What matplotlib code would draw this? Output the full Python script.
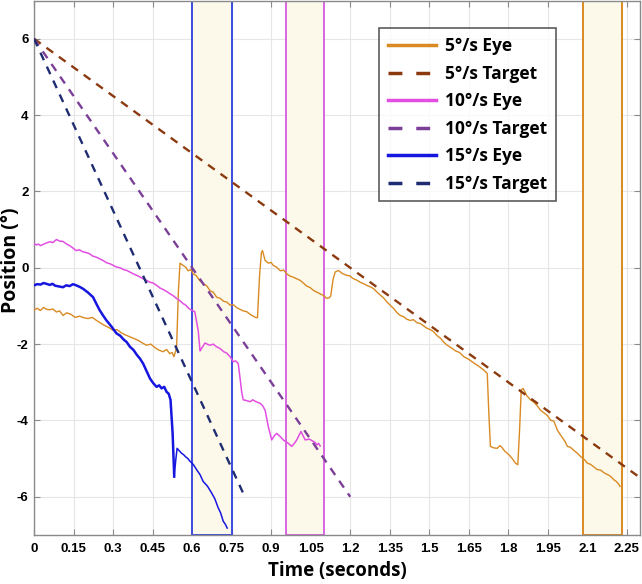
import matplotlib
matplotlib.use("Agg")
import matplotlib.pyplot as plt
from matplotlib.patches import Rectangle

plt.rcParams["axes.unicode_minus"] = False

# ---------------- data ----------------
t_eye5 = [0.000,0.012,0.024,0.036,0.048,0.059,0.072,0.085,0.097,0.110,0.124,0.140,0.156,0.173,0.189,0.205,0.221,0.237,0.253,0.270,0.285,0.300,0.315,0.330,0.347,0.364,0.380,0.395,0.411,0.427,0.443,0.460,0.475,0.490,0.503,0.515,0.524,0.531,
          0.541,0.548,0.554,
          0.566,0.575,0.585,0.595,0.604,0.615,0.628,0.642,0.655,0.668,0.680,0.693,0.706,0.720,0.732,0.744,0.757,0.770,0.782,0.794,0.807,0.820,0.830,0.840,0.848,
          0.856,0.863,0.867,
          0.877,0.890,0.900,0.908,0.920,0.935,0.947,0.959,0.972,0.985,0.997,1.010,1.022,1.035,1.048,1.060,1.070,1.080,1.090,1.098,1.110,1.120,1.126,
          1.135,1.143,
          1.155,1.170,1.187,1.198,1.210,1.224,1.238,1.252,1.265,1.277,1.289,1.302,1.315,1.328,1.340,1.352,1.365,1.378,1.390,1.402,1.415,1.428,1.440,1.453,1.466,1.478,1.490,1.504,1.517,1.530,1.543,1.555,1.568,1.584,1.600,1.615,1.631,1.650,1.670,1.688,1.707,1.720,
          1.726,
          1.732,1.745,1.758,1.768,1.775,1.786,1.796,1.805,1.815,1.827,1.836,
          1.843,1.849,
          1.856,1.870,1.884,1.897,1.910,1.922,1.935,1.948,1.960,1.973,1.986,1.995,2.005,2.015,2.024,2.035,2.048,2.062,2.075,2.088,2.100,2.112,2.125,2.138,2.150,2.165,2.177,2.189,2.200,2.210,2.218,2.224]
y_eye5 = [-1.11,-1.06,-1.12,-1.04,-1.09,-1.10,-1.08,-1.16,-1.13,-1.25,-1.18,-1.22,-1.30,-1.27,-1.31,-1.33,-1.30,-1.38,-1.45,-1.52,-1.57,-1.64,-1.62,-1.70,-1.76,-1.81,-1.86,-1.90,-1.97,-2.03,-2.00,-2.10,-2.16,-2.20,-2.14,-2.25,-2.22,-2.33,
          -2.10,-0.60,0.12,
          0.06,0.02,-0.08,-0.05,-0.16,-0.20,-0.33,-0.42,-0.47,-0.60,-0.64,-0.77,-0.80,-0.88,-0.90,-0.98,-0.97,-1.05,-1.09,-1.13,-1.15,-1.22,-1.26,-1.30,-1.31,
          -0.20,0.40,0.45,
          0.19,0.12,0.14,0.06,0.02,-0.08,-0.06,-0.16,-0.22,-0.25,-0.29,-0.33,-0.40,-0.48,-0.52,-0.59,-0.63,-0.66,-0.70,-0.72,-0.80,-0.79,-0.74,
          -0.30,-0.11,
          -0.07,-0.15,-0.20,-0.21,-0.28,-0.32,-0.38,-0.42,-0.47,-0.50,-0.55,-0.64,-0.72,-0.80,-0.90,-0.98,-1.07,-1.18,-1.25,-1.28,-1.35,-1.38,-1.36,-1.44,-1.46,-1.52,-1.58,-1.62,-1.68,-1.78,-1.85,-1.95,-2.03,-2.10,-2.18,-2.22,-2.33,-2.40,-2.50,-2.58,-2.68,-2.77,
          -3.80,
          -4.68,-4.72,-4.73,-4.66,-4.70,-4.80,-4.86,-4.92,-5.00,-5.12,-5.16,
          -4.20,-3.20,
          -3.16,-3.35,-3.46,-3.52,-3.62,-3.73,-3.80,-3.87,-3.99,-4.02,-4.25,-4.35,-4.45,-4.55,-4.68,-4.70,-4.78,-4.86,-4.95,-5.02,-5.12,-5.15,-5.22,-5.29,-5.30,-5.38,-5.42,-5.47,-5.55,-5.60,-5.66,-5.73]

t_eye10 = [0.000,0.009,0.017,0.025,0.034,0.047,0.060,0.072,0.085,0.097,0.110,0.122,0.135,0.147,0.160,0.172,0.185,0.197,0.210,0.222,0.235,0.248,0.262,0.276,0.290,0.301,0.313,0.327,0.340,0.352,0.363,0.377,0.390,0.402,0.414,0.427,0.440,0.452,0.465,0.478,0.490,0.503,0.516,0.528,0.540,0.553,0.566,0.576,0.585,0.592,0.598,0.610,
           0.623,0.630,0.637,0.649,0.660,0.668,0.680,0.693,0.707,0.720,0.732,0.744,0.756,0.765,0.775,0.782,0.788,0.794,0.807,0.820,0.830,0.840,0.850,0.858,0.868,0.877,0.889,0.902,0.912,0.921,0.934,0.946,0.956,0.965,0.978,0.988,0.997,1.005,1.013,1.021,1.029,1.045,1.060,1.067,1.073,1.080,1.086]
y_eye10 = [0.63,0.60,0.62,0.58,0.61,0.65,0.68,0.66,0.74,0.70,0.69,0.63,0.58,0.52,0.45,0.47,0.42,0.40,0.37,0.31,0.28,0.24,0.19,0.13,0.10,0.06,0.02,0.00,-0.05,-0.07,-0.11,-0.16,-0.20,-0.24,-0.29,-0.33,-0.38,-0.40,-0.46,-0.53,-0.57,-0.62,-0.68,-0.73,-0.80,-0.86,-0.94,-0.98,-1.05,-1.09,-1.11,-1.15,
           -1.64,-2.18,-2.10,-1.97,-2.01,-2.03,-2.00,-2.07,-2.12,-2.20,-2.24,-2.33,-2.46,-2.44,-2.51,-2.90,-3.25,-3.46,-3.48,-3.51,-3.46,-3.50,-3.53,-3.55,-3.62,-3.73,-4.16,-4.51,-4.40,-4.34,-4.42,-4.51,-4.56,-4.60,-4.68,-4.60,-4.51,-4.40,-4.29,-4.40,-4.51,-4.49,-4.55,-4.58,-4.64,-4.60,-4.67]

t_eye15 = [0.000,0.012,0.025,0.036,0.047,0.060,0.070,0.080,0.095,0.110,0.122,0.135,0.148,0.160,0.173,0.186,0.205,0.224,0.237,0.249,0.262,0.275,0.295,0.313,0.327,0.340,0.352,0.364,0.377,0.390,0.402,0.414,0.428,0.440,0.452,0.465,0.475,0.484,0.494,0.503,0.511,0.518,0.522,0.526,
           0.532,0.538,0.543,0.552,0.560,0.568,0.575,0.584,0.592,0.604,0.617,0.630,0.642,0.658,0.674,0.686,0.699,0.708,0.718,0.726,0.733]
y_eye15 = [-0.46,-0.43,-0.44,-0.40,-0.42,-0.45,-0.42,-0.47,-0.49,-0.51,-0.46,-0.48,-0.43,-0.46,-0.50,-0.55,-0.65,-0.77,-0.95,-1.11,-1.25,-1.38,-1.55,-1.72,-1.78,-1.88,-1.95,-2.07,-2.15,-2.28,-2.38,-2.51,-2.72,-2.90,-3.02,-3.12,-3.08,-3.16,-3.12,-3.25,-3.30,-3.46,-3.90,-4.34,
           -5.47,-5.03,-4.73,-4.80,-4.86,-4.90,-4.95,-5.00,-5.07,-5.15,-5.29,-5.42,-5.60,-5.72,-5.90,-6.05,-6.29,-6.42,-6.64,-6.72,-6.82]

t_tgt5, y_tgt5 = [0.0, 2.3], [6.0, -5.5]
t_tgt10, y_tgt10 = [0.0, 1.2], [6.0, -6.0]
t_tgt15, y_tgt15 = [0.0, 0.8], [6.0, -6.0]

windows = [(0.60, 0.75), (0.955, 1.10), (2.083, 2.232)]

labels = ["5°/s Eye", "5°/s Target", "10°/s Eye", "10°/s Target", "15°/s Eye", "15°/s Target"]
xticks = [0, 0.15, 0.3, 0.45, 0.6, 0.75, 0.9, 1.05, 1.2, 1.35, 1.5, 1.65, 1.8, 1.95, 2.1, 2.25]
xtick_labels = ["0", "0.15", "0.3", "0.45", "0.6", "0.75", "0.9", "1.05", "1.2", "1.35", "1.5", "1.65", "1.8", "1.95", "2.1", "2.25"]
yticks = [-6, -4, -2, 0, 2, 4, 6]

# ---------------- style ----------------
c_eye5, c_tgt5 = "#D98A22", "#8B3A10"
c_eye10, c_tgt10 = "#E24EE2", "#7B3F98"
c_eye15, c_tgt15 = "#1616E0", "#1F2C72"
win_edges = ["#3A4CE0", "#D865E0", "#D98A22"]
fill_col = "#FDF9EA"

fig = plt.figure(figsize=(6.42, 5.84), dpi=100)
ax = fig.add_axes([0.053, 0.084, 0.944, 0.915])

for (a, b), ec in zip(windows, win_edges):
    ax.add_patch(Rectangle((a, -7), b - a, 14, facecolor=fill_col, edgecolor=ec,
                           linewidth=1.4, zorder=1))

dash = (0, (3.5, 3.0))
n_thick = next(i for i, t in enumerate(t_eye15) if t >= 0.532)
l1, = ax.plot(t_eye5, y_eye5, color=c_eye5, lw=1.0, zorder=3)
l2, = ax.plot(t_tgt5, y_tgt5, color=c_tgt5, lw=1.7, linestyle=dash, zorder=3)
l3, = ax.plot(t_eye10, y_eye10, color=c_eye10, lw=1.1, zorder=3)
l4, = ax.plot(t_tgt10, y_tgt10, color=c_tgt10, lw=1.7, linestyle=dash, zorder=3)
l5, = ax.plot(t_eye15[:n_thick + 1], y_eye15[:n_thick + 1], color=c_eye15, lw=1.8, zorder=3)
ax.plot(t_eye15[n_thick:], y_eye15[n_thick:], color=c_eye15, lw=1.1, zorder=3)
l6, = ax.plot(t_tgt15, y_tgt15, color=c_tgt15, lw=1.7, linestyle=dash, zorder=3)

ax.set_xlim(0, 2.3)
ax.set_ylim(-7, 7)
ax.set_xticks(xticks)
ax.set_xticklabels(xtick_labels)
ax.set_yticks(yticks)
ax.grid(True, color="#E6E6E6", linewidth=0.8, zorder=0)
ax.set_axisbelow(True)
for s in ax.spines.values():
    s.set_color("#8A8A8A")
    s.set_linewidth(1.0)
ax.tick_params(direction="in", top=True, right=True, length=4, color="#8A8A8A",
               labelsize=9.5)
ax.tick_params(axis="x", pad=6)
ax.tick_params(axis="y", pad=4)
for lab in ax.get_xticklabels() + ax.get_yticklabels():
    lab.set_fontweight("bold")
    lab.set_family("Liberation Sans")

ax.set_xlabel("Time (seconds)", fontsize=13.5, fontweight="bold", family="Open Sans", labelpad=4)
ax.set_ylabel("Position (°)", fontsize=14, fontweight="bold", family="Open Sans")
ax.yaxis.set_label_coords(-0.021, 0.514)

leg = ax.legend([l1, l2, l3, l4, l5, l6], labels, loc="upper left",
                bbox_to_anchor=(0.569, 0.948), borderaxespad=0,
                prop={"family": "Open Sans", "weight": "bold", "size": 12.5},
                frameon=True, fancybox=False, edgecolor="#333333",
                handlelength=2.8, handletextpad=0.5, labelspacing=0.55,
                borderpad=0.5)
leg.get_frame().set_linewidth(1.2)
for h in leg.get_lines():
    h.set_linewidth(2.5)
    if h.get_linestyle() != "-":
        h.set_dashes((4, 4))

fig.savefig("out.png", dpi=100)
